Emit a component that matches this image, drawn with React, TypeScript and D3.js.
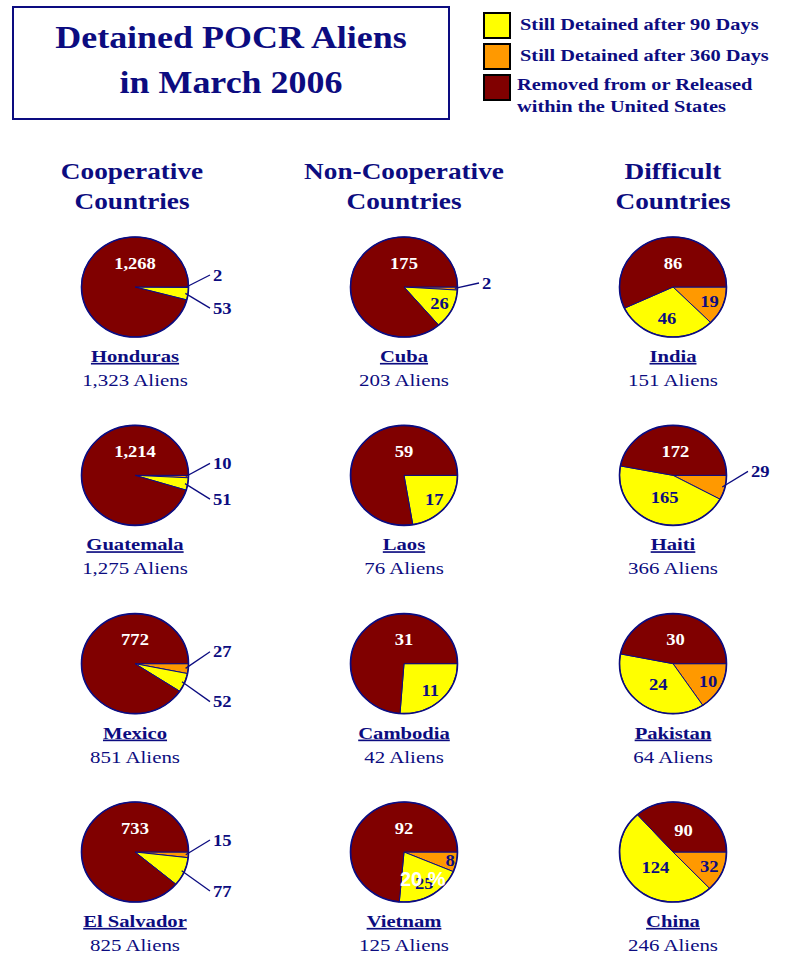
import * as d3 from "d3";

// ---- data ----
const groups = ["Cooperative Countries", "Non-Cooperative Countries", "Difficult Countries"];
const countries = [
  ["Honduras", "Guatemala", "Mexico", "El Salvador"],
  ["Cuba", "Laos", "Cambodia", "Vietnam"],
  ["India", "Haiti", "Pakistan", "China"],
];
// per column, per row
const detained360 = [
  [2, 10, 27, 15],
  [2, 0, 0, 8],
  [19, 29, 10, 32],
];
const detained90 = [
  [53, 51, 52, 77],
  [26, 17, 11, 25],
  [46, 165, 24, 124],
];
const removed = [
  [1268, 1214, 772, 733],
  [175, 59, 31, 92],
  [86, 172, 30, 90],
];
const legendLabels = [
  ["Still Detained after 90 Days"],
  ["Still Detained after 360 Days"],
  ["Removed from or Released", "within the United States"],
];
// small slices whose labels sit outside with a leader line
const calloutCountries = ["Honduras", "Guatemala", "Mexico", "El Salvador", "Cuba", "Haiti"];

const NAVY = "#0c0c80";
const YELLOW = "#ffff00";
const ORANGE = "#ff9900";
const MAROON = "#800000";
const SERIF = "'Liberation Serif', 'Times New Roman', serif";
const SX = 1.16; // text is drawn a little wide in the original
const PX = 1.07; // pies are slightly wider than tall

const W = 791, H = 962;
const R = 50;

const colX = d3.scalePoint<number>().domain([0, 1, 2]).range([135, 673]);
const rowY = d3.scalePoint<number>().domain([0, 1, 2, 3]).range([287, 852]);

function T(props: any) {
  const { x, y, children, sx = SX, ...rest } = props;
  return (
    <text transform={`translate(${x},${y}) scale(${sx},1)`} fontFamily={SERIF} {...rest}>
      {children}
    </text>
  );
}

const pie = d3
  .pie<number>()
  .sort(null)
  .startAngle(Math.PI / 2)
  .endAngle(Math.PI / 2 + 2 * Math.PI)
  .value((d) => d);
const arc = d3.arc<any>().innerRadius(0).outerRadius(R);
const colors = [ORANGE, YELLOW, MAROON];

function labelFactor(sweep: number) {
  if (sweep < 0.7) return 0.88;
  if (sweep <= 1.6) return 0.74;
  if (sweep <= 2.3) return 0.74 - 0.24 * ((sweep - 1.6) / 0.7);
  return 0.5 - 0.05 * ((sweep - 2.3) / (Math.PI - 2.3));
}

function Pie({ c, r }: { c: number; r: number }) {
  const cx = colX(c)!;
  const cy = rowY(r)!;
  const name = countries[c][r];
  const vals = [detained360[c][r], detained90[c][r], removed[c][r]];
  const total = d3.sum(vals);
  const arcs = pie(vals);
  const pt = (a: number, rr: number) => [cx + PX * rr * Math.sin(a), cy - rr * Math.cos(a)];

  const callouts = arcs
    .slice(0, 2)
    .map((a, i) => ({ a, i }))
    .filter(({ a }) => a.value > 0 && calloutCountries.includes(name) && a.endAngle - a.startAngle < 0.6);
  const inside = arcs
    .slice(0, 2)
    .map((a, i) => ({ a, i }))
    .filter(({ a }) => a.value > 0 && !callouts.some((k) => k.a === a));

  const m = arcs[2];
  const mFrac = m.value / total;
  const mAngle = mFrac < 0.5 ? (m.startAngle + m.endAngle) / 2 : 2 * Math.PI;
  const [mx, my] = pt(mAngle, R * 0.48);

  const textX = cx + 78;

  return (
    <g>
      <g transform={`translate(${cx},${cy}) scale(${PX},1)`}>
        {arcs.map((a, i) => (
          <path
            key={i}
            d={arc(a) as string}
            fill={colors[i]}
            stroke={NAVY}
            strokeWidth={1}
            vectorEffect="non-scaling-stroke"
          />
        ))}
        <circle r={R} fill="none" stroke={NAVY} strokeWidth={1.6} vectorEffect="non-scaling-stroke" />
      </g>
      <T x={mx} y={my} dy="0.35em" textAnchor="middle" fill="#fff" fontWeight="bold" fontSize={16}>
        {d3.format(",")(m.value)}
      </T>
      {inside.map(({ a, i }) => {
        const sweep = a.endAngle - a.startAngle;
        const [lx, ly] = pt((a.startAngle + a.endAngle) / 2, R * labelFactor(sweep));
        return (
          <T key={i} x={lx} y={ly} dy="0.35em" textAnchor="middle" fill={NAVY} fontWeight="bold" fontSize={16}>
            {a.value}
          </T>
        );
      })}
      {callouts.map(({ a, i }) => {
        const mid = (a.startAngle + a.endAngle) / 2;
        const below = Math.sin(mid - Math.PI / 2);
        let yc: number;
        if (callouts.length === 2) yc = i === 0 ? cy - 12 : cy + 12 + 68 * below;
        else yc = cy - 4;
        const [sx, sy] = pt(mid, R * 0.95);
        return (
          <g key={i}>
            <line x1={sx} y1={sy} x2={textX - 3} y2={yc} stroke={NAVY} strokeWidth={1.3} />
            <T x={textX} y={yc} dy="0.35em" fill={NAVY} fontWeight="bold" fontSize={16}>
              {a.value}
            </T>
          </g>
        );
      })}
      {name === "Vietnam" && (
        <text
          x={cx - 4}
          y={cy + 34}
          fill="#fff"
          fontFamily="'Liberation Sans', Arial, sans-serif"
          fontWeight="bold"
          fontSize={20}
        >
          20 %
        </text>
      )}
      <T
        x={cx}
        y={cy + 75}
        sx={1.25}
        textAnchor="middle"
        fill={NAVY}
        fontWeight="bold"
        fontSize={16.5}
        style={{ textDecoration: "underline", textDecorationThickness: "2px" }}
      >
        {name}
      </T>
      <T x={cx} y={cy + 99} sx={1.23} textAnchor="middle" fill={NAVY} fontSize={17}>
        {`${d3.format(",")(total)} Aliens`}
      </T>
    </g>
  );
}

export default function App() {
  const legendColors = [YELLOW, ORANGE, MAROON];
  const legendY = d3.scalePoint<number>().domain([0, 1, 2]).range([13, 75]);
  return (
    <svg
      width={W}
      height={H}
      style={{ position: "absolute", left: 0, top: 0, display: "block", background: "#fff" }}
    >
      <rect x={13} y={7} width={436} height={112} fill="none" stroke={NAVY} strokeWidth={2} />
      <T x={231} y={48} textAnchor="middle" fill={NAVY} fontWeight="bold" fontSize={31}>
        Detained POCR Aliens
      </T>
      <T x={231} y={93} textAnchor="middle" fill={NAVY} fontWeight="bold" fontSize={31}>
        in March 2006
      </T>

      {legendLabels.map((lines, i) => (
        <g key={i}>
          <rect
            x={484}
            y={legendY(i)!}
            width={26}
            height={25}
            fill={legendColors[i]}
            stroke="#000"
            strokeWidth={2}
          />
          {lines.map((l, j) => (
            <T
              key={j}
              x={i === 2 ? 517 : 520}
              y={legendY(i)! + (i === 2 ? 15 : 17) + j * 22}
              sx={1.2}
              fill={NAVY}
              fontWeight="bold"
              fontSize={17}
            >
              {l}
            </T>
          ))}
        </g>
      ))}

      {groups.map((g, c) => {
        const words = g.split(" ");
        return (
          <g key={g}>
            <T x={colX(c)! - (c === 0 ? 3 : 0)} y={179} textAnchor="middle" fill={NAVY} fontWeight="bold" fontSize={23.5}>
              {words[0]}
            </T>
            <T x={colX(c)! - (c === 0 ? 3 : 0)} y={209} textAnchor="middle" fill={NAVY} fontWeight="bold" fontSize={23.5}>
              {words[1]}
            </T>
          </g>
        );
      })}

      {countries.map((col, c) => col.map((_, r) => <Pie key={`${c}-${r}`} c={c} r={r} />))}
    </svg>
  );
}
